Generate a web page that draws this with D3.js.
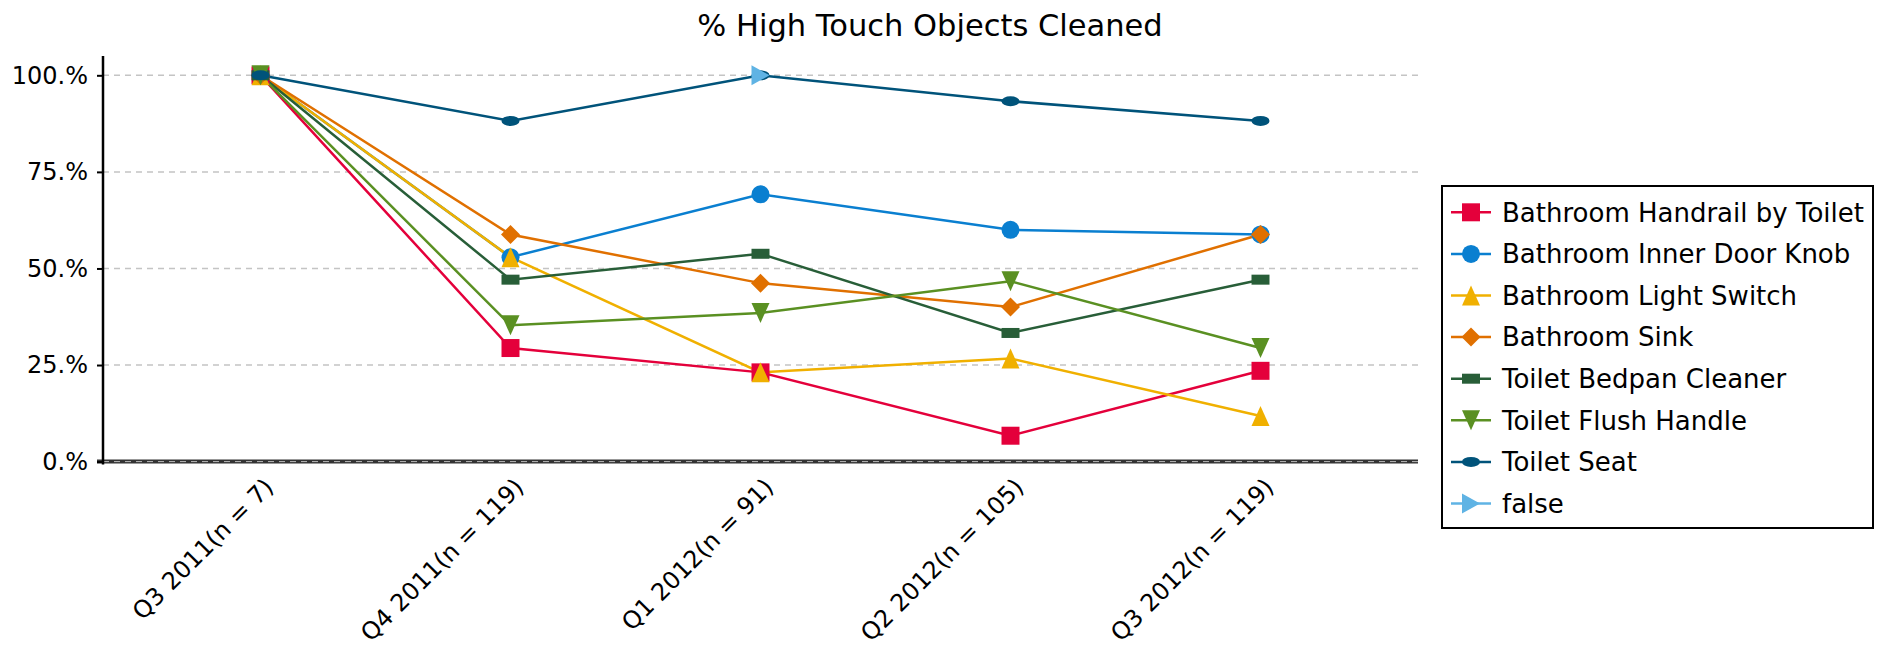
<!DOCTYPE html>
<html>
<head>
<meta charset="utf-8">
<script src="https://cdn.jsdelivr.net/npm/d3@7"></script>
<style>
  body { margin: 0; background: #fff; }
  text { font-family: "DejaVu Sans", sans-serif; fill: #000; }
</style>
</head>
<body>
<svg id="drawspace" width="1885" height="648"></svg>
<script>
let drawSpace = d3.select("#drawspace");

// quarters on the x axis
let quarters = ["Q3 2011(n = 7)", "Q4 2011(n = 119)", "Q1 2012(n = 91)", "Q2 2012(n = 105)", "Q3 2012(n = 119)"];

// % cleaned per object, one value per quarter
let handrail    = [100, 29.4, 23.1, 6.7, 23.5];
let doorKnob    = [100, 52.9, 69.2, 60.0, 58.8];
let lightSwitch = [100, 52.9, 23.1, 26.7, 11.8];
let sink        = [100, 58.8, 46.2, 40.0, 58.8];
let bedpan      = [100, 47.1, 53.8, 33.3, 47.1];
let flush       = [100, 35.3, 38.5, 46.7, 29.4];
let seat        = [100, 88.2, 100, 93.3, 88.2];
let falseSeries = [null, null, 100, null, null];

let seriesNames = ["Bathroom Handrail by Toilet", "Bathroom Inner Door Knob", "Bathroom Light Switch",
  "Bathroom Sink", "Toilet Bedpan Cleaner", "Toilet Flush Handle", "Toilet Seat", "false"];
let seriesValues = [handrail, doorKnob, lightSwitch, sink, bedpan, flush, seat, falseSeries];

let yTicks = [0, 25, 50, 75, 100];

let colors = ["#e4003b", "#0a7fd0", "#f0b000", "#e07000", "#285e38", "#5a9022", "#00537a", "#5fb3e4"];
let shapes = ["square", "circle", "up", "diamond", "rect", "down", "ellipse", "right"];

let series = seriesNames.map((name, i) => ({
  name: name,
  color: colors[i],
  shape: shapes[i],
  points: seriesValues[i].map((v, j) => ({ q: quarters[j], v: v })).filter(p => p.v !== null)
}));

let plotLeft = 103, plotRight = 1418, plotTop = 56, plotBottom = 461.6;

let x = d3.scalePoint().domain(quarters).range([plotLeft, plotRight]).padding(0.63);
let y = d3.scaleLinear().domain([0, 105]).range([plotBottom, plotTop]);

function markerPath(shape) {
  switch (shape) {
    case "square": return "M-9,-9H9V9H-9Z";
    case "circle": return "M-9,0A9,9 0 1,0 9,0A9,9 0 1,0 -9,0Z";
    case "up": return "M0,-10L9,10H-9Z";
    case "down": return "M0,10L9,-10H-9Z";
    case "diamond": return "M0,-9.5L9.5,0L0,9.5L-9.5,0Z";
    case "rect": return "M-9,-5H9V5H-9Z";
    case "ellipse": return "M-9,0A9,5 0 1,0 9,0A9,5 0 1,0 -9,0Z";
    case "right": return "M-9,-10L9,0L-9,10Z";
  }
}

// title
drawSpace.append("text")
  .attr("x", 930).attr("y", 36)
  .attr("text-anchor", "middle")
  .style("font-size", "30.5px")
  .text("% High Touch Objects Cleaned");

// gridlines
drawSpace.append("g")
  .selectAll("line")
  .data(yTicks)
  .enter()
  .append("line")
  .attr("x1", plotLeft).attr("x2", plotRight)
  .attr("y1", d => y(d)).attr("y2", d => y(d))
  .attr("stroke", "#c4c4c4")
  .attr("stroke-width", 1.5)
  .attr("stroke-dasharray", "6,5");

// x axis
let xAxis = drawSpace.append("g")
  .attr("transform", "translate(0," + y(0) + ")")
  .call(d3.axisBottom(x).tickSize(0).tickSizeOuter(0));
xAxis.select(".domain")
  .attr("d", "M" + (plotLeft - 6) + ",0H" + plotRight)
  .attr("stroke", "#333").attr("stroke-width", 4);
xAxis.append("line")
  .attr("x1", plotLeft).attr("x2", plotRight)
  .attr("stroke", "#bbb").attr("stroke-width", 1)
  .attr("stroke-dasharray", "6,5");
xAxis.selectAll(".tick text")
  .attr("y", 0).attr("dy", 0)
  .attr("transform", "translate(14,27) rotate(-45)")
  .attr("text-anchor", "end")
  .style("font-size", "24px")
  .style("font-family", "DejaVu Sans");

// y axis
let yAxis = drawSpace.append("g")
  .attr("transform", "translate(" + plotLeft + ",0)")
  .call(d3.axisLeft(y).tickValues(yTicks).tickFormat(d => d + ".%").tickSize(6).tickPadding(9).tickSizeOuter(0));
yAxis.select(".domain").attr("stroke", "#000").attr("stroke-width", 2.5)
  .attr("d", "M0," + plotTop + "V" + (plotBottom + 3));
yAxis.selectAll(".tick line").attr("stroke", "#000").attr("stroke-width", 2);
yAxis.selectAll(".tick text")
  .style("font-size", "24px")
  .style("font-family", "DejaVu Sans");

// lines
let line = d3.line().x(d => x(d.q)).y(d => y(d.v));

drawSpace.append("g")
  .selectAll("path")
  .data(series)
  .enter()
  .append("path")
  .attr("d", d => line(d.points))
  .attr("fill", "none")
  .attr("stroke", d => d.color)
  .attr("stroke-width", 2.5);

// markers
let markerGroups = drawSpace.append("g")
  .selectAll("g")
  .data(series)
  .enter()
  .append("g");

markerGroups.selectAll("path")
  .data(d => d.points.map(p => ({ q: p.q, v: p.v, color: d.color, shape: d.shape })))
  .enter()
  .append("path")
  .attr("transform", d => "translate(" + x(d.q) + "," + y(d.v) + ")")
  .attr("d", d => markerPath(d.shape))
  .attr("fill", d => d.color)
  .append("title")
  .text(d => d.q + ": " + d.v + "%");

// legend
let legend = drawSpace.append("g").attr("transform", "translate(1442,186)");
legend.append("rect")
  .attr("width", 431).attr("height", 342)
  .attr("fill", "#fff").attr("stroke", "#000").attr("stroke-width", 2);

let rows = legend.selectAll("g.row")
  .data(series)
  .enter()
  .append("g")
  .attr("class", "row")
  .attr("transform", (d, i) => "translate(0," + (26.3 + i * 41.6) + ")");

rows.append("line")
  .attr("x1", 9).attr("x2", 49)
  .attr("stroke", d => d.color).attr("stroke-width", 2.5);
rows.append("path")
  .attr("transform", "translate(29,0)")
  .attr("d", d => markerPath(d.shape))
  .attr("fill", d => d.color);
rows.append("text")
  .attr("x", 60).attr("dy", "0.36em")
  .style("font-size", "26px")
  .text(d => d.name);
</script>
</body>
</html>
